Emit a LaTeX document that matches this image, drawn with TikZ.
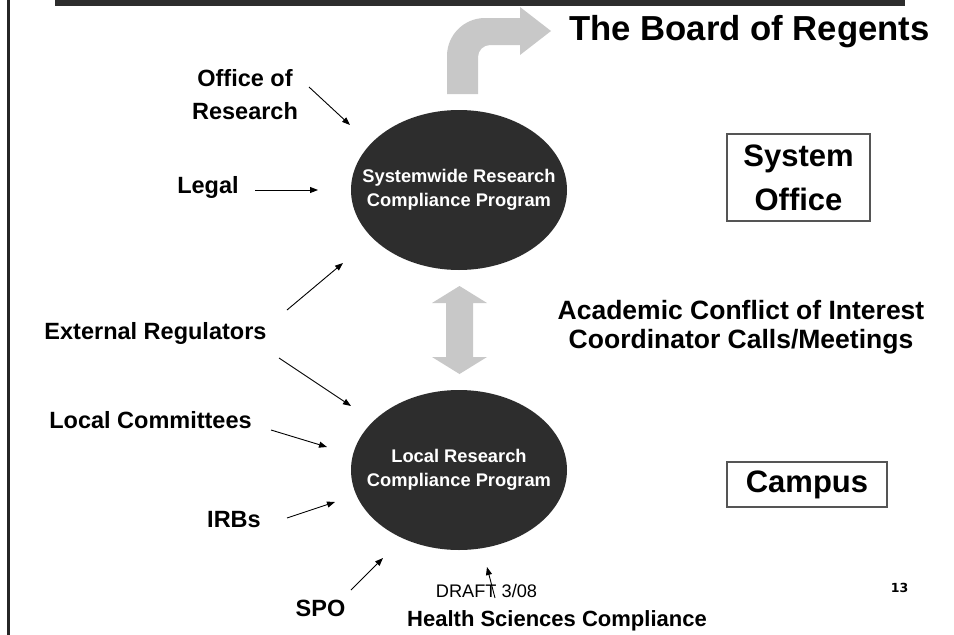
\documentclass[tikz,border=0pt]{standalone}
\usepackage{fontspec}
\setmainfont{Liberation Sans}
\newfontfamily\numfont{DejaVu Sans}
\usetikzlibrary{shapes.geometric,arrows.meta}
\definecolor{darkfill}{HTML}{2D2D2D}
\definecolor{bandgray}{HTML}{C8C8C8}
\definecolor{boxline}{HTML}{555555}
\newcommand{\fs}[2]{\fontsize{#1}{#2}\selectfont}
\begin{document}
\begin{tikzpicture}[x=1pt,y=-1pt,
  lbl/.style={font=\bfseries\fs{23.5}{33}, align=center, inner sep=0pt},
  progtext/.style={text=white, font=\bfseries\fs{18.3}{24.5}, align=center, inner sep=0pt},
  levelbox/.style={draw=boxline, line width=1.3pt, font=\bfseries\fs{31}{44},
    align=center, inner sep=0pt},
  feed/.style={line width=0.9pt, -{Triangle[length=8pt,width=6pt]}}]
\useasboundingbox (0,0) rectangle (954,635);
\fill[white] (0,0) rectangle (954,635);

% frame pieces: left rule and top band
\fill[black!85] (7,0) rectangle (9.5,635);
\fill[darkfill] (55,0) rectangle (905,6);

% the two programs
\fill[darkfill] (459,190) ellipse[x radius=108, y radius=80];
\fill[darkfill] (459,470) ellipse[x radius=108, y radius=80];
\node[progtext] (sys) at (459,190) {Systemwide Research\\Compliance Program};
\node[progtext] (loc) at (459,470) {Local Research\\Compliance Program};

% curved arrow up to the Board
\fill[bandgray] (447,94) -- (447,56) arc[start angle=180,end angle=270,radius=38]
  -- (520,18) -- (520,7) -- (551,31) -- (520,55) -- (520,45) -- (490,45)
  arc[start angle=270,end angle=180,radius=12] -- (478,94) -- cycle;
\node[font=\bfseries\fs{34.7}{38}, anchor=west, inner sep=0pt] (board) at (569,32) {The Board of Regents};

% two-way arrow between the levels
\fill[bandgray] (459.5,286) -- (487,303) -- (473,303) -- (473,357) -- (487,357)
  -- (459.5,374) -- (432,357) -- (446,357) -- (446,303) -- (432,303) -- cycle;
\node[font=\bfseries\fs{26.5}{29}, align=center, inner sep=0pt] (coi) at (741,327)
  {Academic Conflict of Interest\\Coordinator Calls/Meetings};

% level boxes
\node[levelbox, minimum width=143pt, minimum height=87pt] (sysoff) at (798.5,177.5) {System\\Office};
\node[levelbox, minimum width=160pt, minimum height=45pt] (campus) at (807,484.5) {Campus};

% inputs
\node[lbl] (ofr) at (245,95) {Office of\\Research};
\node[lbl] (legal) at (208,187) {Legal};
\node[lbl, anchor=base] (ext) at (155.5,339) {External Regulators};
\node[lbl, anchor=base] (lcom) at (150.5,428) {Local Committees};
\node[lbl, anchor=base] (irb) at (234,527) {IRBs};
\node[lbl, anchor=base] (spo) at (320.5,616) {SPO};
\node[lbl, anchor=base, font=\bfseries\fs{22}{26}] (hsc) at (557,626) {Health Sciences Compliance};
\node[font=\fs{18.2}{22}, anchor=base, inner sep=0pt] (draft) at (486.5,597) {DRAFT 3/08};
\node[font=\numfont\bfseries\fs{12.5}{14}, inner sep=0pt] (pg) at (899.5,587.5) {13};

\coordinate (ofrT) at (309,87);   \coordinate (ofrH) at (350,125);
\coordinate (legT) at (255,190);  \coordinate (legH) at (318,190);
\coordinate (extT1) at (287,310); \coordinate (extH1) at (343,263);
\coordinate (extT2) at (279,358); \coordinate (extH2) at (351,406);
\coordinate (lcT) at (271,430);   \coordinate (lcH) at (327,447);
\coordinate (irbT) at (287,518);  \coordinate (irbH) at (335,502);
\coordinate (spoT) at (351,590);  \coordinate (spoH) at (383,558);
\coordinate (hscT) at (495,598);  \coordinate (hscH) at (487,567);

\draw[feed] (ofrT) -- (ofrH);
\draw[feed] (legT) -- (legH);
\draw[feed] (extT1) -- (extH1);
\draw[feed] (extT2) -- (extH2);
\draw[feed] (lcT) -- (lcH);
\draw[feed] (irbT) -- (irbH);
\draw[feed] (spoT) -- (spoH);
\draw[feed] (hscT) -- (hscH);
\end{tikzpicture}
\end{document}
